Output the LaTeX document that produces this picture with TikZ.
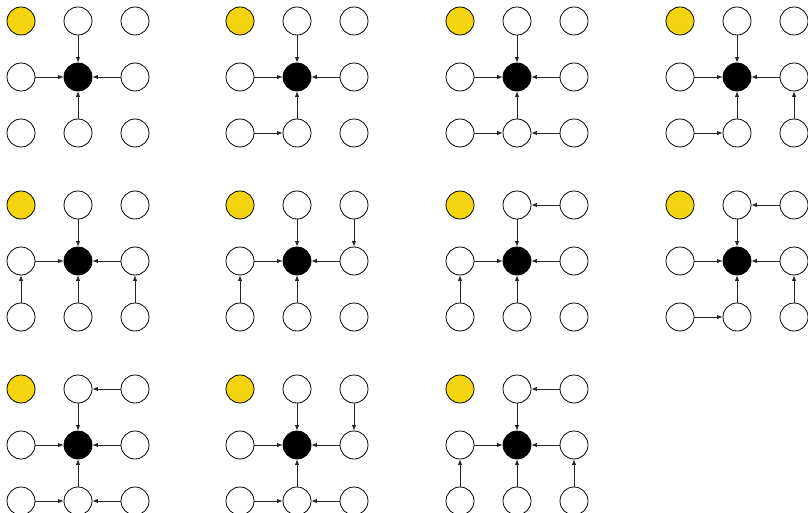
\documentclass[tikz,border=0pt]{standalone}
\usepackage{xcolor}
\usepackage{tikz}
\usetikzlibrary{arrows.meta}
\definecolor{seedyellow}{RGB}{242, 212, 15}

\tikzset{
    cell/.style={circle, draw=black, line width=0.8pt, fill=white, minimum size=28pt, inner sep=0pt},
    seed/.style={cell, fill=seedyellow},
    target/.style={cell, fill=black},
    link/.style={-{Latex[length=5.5pt,width=4.5pt]}, line width=0.8pt, draw=black!85}
}

% one 3x3 grid: name, x and y of its top-left cell
\newcommand{\cellgrid}[3]{
    \node[seed] (#1-00) at (#2,#3) {};
    \node[target] (#1-11) at (#2+57,#3+56) {};
    \foreach \c/\r in {1/0,2/0,0/1,2/1,0/2,1/2,2/2} {
        \node[cell] (#1-\c\r) at (#2+\c*57,#3+\r*56) {};
    }
    % the four neighbours always point at the centre
    \foreach \s in {01,10,21,12} {
        \draw[link] (#1-\s) -- (#1-11);
    }
}

\begin{document}
\begin{tikzpicture}[x=1pt, y=-1pt]
    \useasboundingbox (0,0) rectangle (808,513);

    % Top row
    \cellgrid{a}{21}{21}
    \cellgrid{b}{240}{21}
    \cellgrid{c}{460}{21}
    \cellgrid{d}{680}{21}

    % Middle row
    \cellgrid{e}{21}{205}
    \cellgrid{f}{240}{205}
    \cellgrid{g}{460}{205}
    \cellgrid{h}{680}{205}

    % Bottom row
    \cellgrid{i}{21}{389}
    \cellgrid{j}{240}{389}
    \cellgrid{k}{460}{389}

    % Extra links
    \foreach \s/\t in {b-02/b-12, c-02/c-12, c-22/c-12, d-02/d-12, d-22/d-21,
                       e-02/e-01, e-22/e-21, f-02/f-01, f-20/f-21,
                       g-20/g-10, g-02/g-01, h-20/h-10, h-02/h-12, h-22/h-21,
                       i-20/i-10, i-02/i-12, i-22/i-12, j-20/j-21, j-02/j-12, j-22/j-12,
                       k-20/k-10, k-02/k-01, k-22/k-21} {
        \draw[link] (\s) -- (\t);
    }
\end{tikzpicture}
\end{document}
